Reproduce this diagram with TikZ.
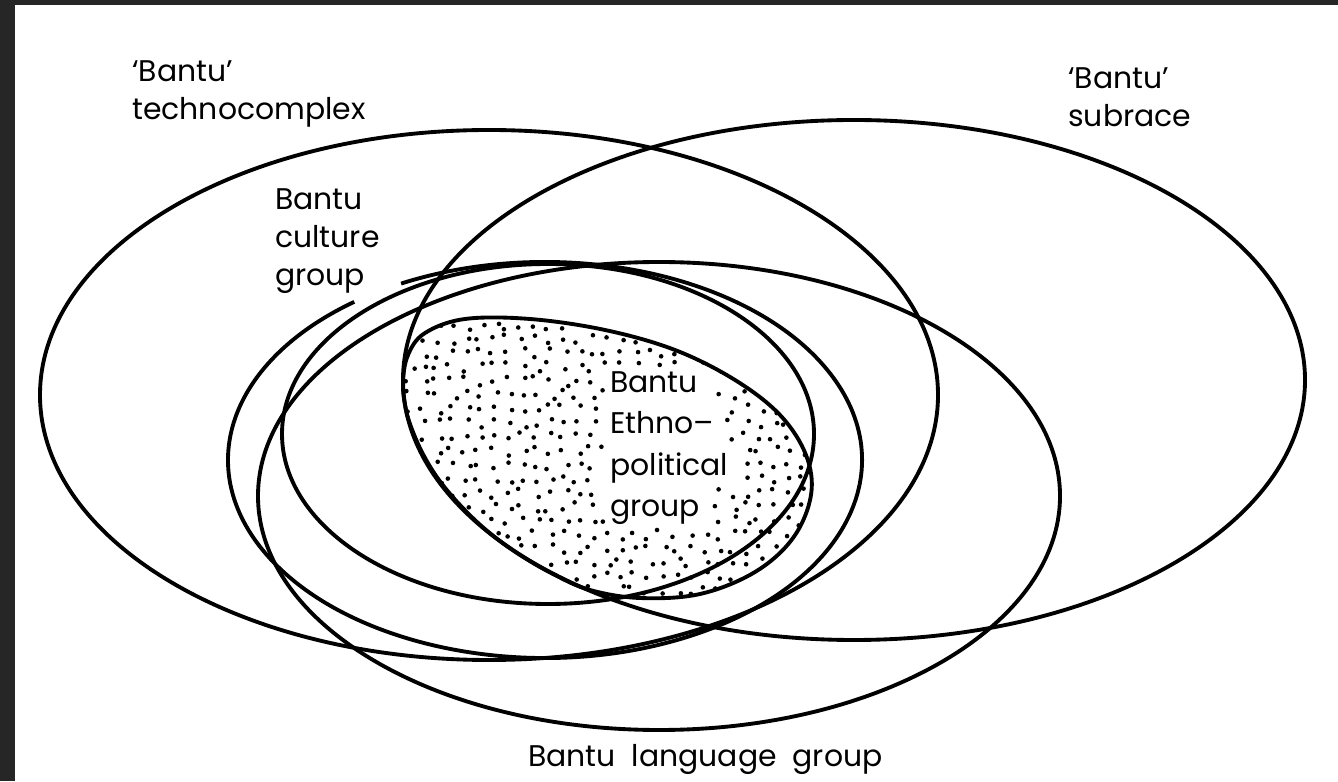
\documentclass[tikz,border=0pt]{standalone}
\usepackage{fontspec}
\setmainfont{Poppins}
\newcommand\ethnoshape{plot[smooth cycle, tension=0.6] coordinates {
  (403,398) (406,371) (413,349) (424,325) (439,301) (460,276) (486,251)
  (517,228) (553,207) (590,191) (640,183) (700,187) (755,209) (793,243)
  (811,286) (806,326) (780,366) (735,401) (675,431) (605,451) (530,462)
  (465,462) (425,448) (408,426)}}
\begin{document}
\begin{tikzpicture}[x=0.02cm, y=0.02cm,
  set/.style={line width=2.2pt, black},
  lbl/.style={inner sep=0pt, align=left, font=\fontsize{17}{21.6}\selectfont},
  grain/.style={fill=black}
]
% frame: dark scan border, white paper
\fill[black!85] (0,0) rectangle (1338,781);
\fill[white] (15,0) rectangle (1338,776);
\useasboundingbox (0,0) rectangle (1338,781);

% dotted ethno-political set
\begin{scope}
  \clip \ethnoshape;
  \pgfmathsetseed{4217}
  \foreach \i in {0,...,30} {
    \foreach \j in {0,...,22} {
      \pgfmathsetmacro{\px}{396+14*\i+5*rand}
      \pgfmathsetmacro{\py}{176+14*\j+5*rand}
      \pgfmathtruncatemacro{\skip}{(\px>603)&&(((\py>380)&&(\py<414)&&(\px<718))||((\py>338)&&(\py<=380)&&(\px<725))||((\py>296)&&(\py<=338)&&(\px<735))||((\py>251)&&(\py<=296)&&(\px<708)))}
      \ifnum\skip=0
        \fill[grain] (\px,\py) circle (2.3);
      \fi
    }
  }
\end{scope}

% the sets
\draw[set] (489,386) ellipse [x radius=449, y radius=265];   % technocomplex
\draw[set] (854,401) ellipse [x radius=451, y radius=260];   % subrace
\draw[set] (659,285) ellipse [x radius=401, y radius=234];   % language group
\draw[set] (548,347) ellipse [x radius=266, y radius=170];   % inner ring
\draw[set] ([shift={(117:317 and 198)}]545,321)
  arc[start angle=117, end angle=-233, x radius=317, y radius=198]; % culture group
\draw[set] \ethnoshape;

% labels
\node[lbl, anchor=north west] (techno) at (132,721) {‘Bantu’\\technocomplex};
\node[lbl, anchor=north west] (subrace) at (1068,714) {‘Bantu’\\subrace};
\node[lbl, anchor=north west] (culture) at (275,593) {Bantu\\culture\\group};
\node[lbl, anchor=north west, font=\fontsize{17}{23.6}\selectfont] (ethno) at (610,410) {Bantu\\Ethno–\\political\\group};
\node[lbl, anchor=north west] (language) at (528,37) {Bantu\ \ language\ \ group};
\end{tikzpicture}
\end{document}
